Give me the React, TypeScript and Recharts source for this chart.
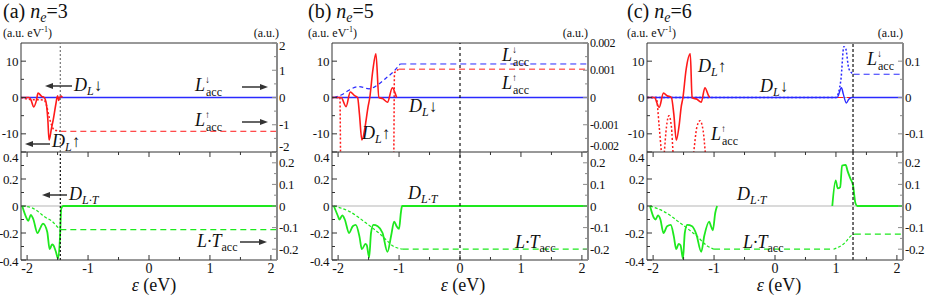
import { LineChart, Line, XAxis, YAxis, ReferenceLine } from "recharts"

type Pt = [number, number | null]

const FONT = "Liberation Serif"

// panel headings
const panelTags = ["(a)", "(b)", "(c)"]
const neValues = [3, 5, 6]

// x axis, energy in eV
const xDomain: [number, number] = [-2.1, 2.1]
const xTicks = [-2, -1.5, -1, -0.5, 0, 0.5, 1, 1.5, 2]

// left axes
const dosDomain: [number, number] = [-15, 15]
const dosTicks = [-10, -5, 0, 5, 10]
const dosLabels = [-10, 0, 10]
const dltDomain: [number, number] = [-0.4, 0.4]
const dltTicks = [-0.4, -0.3, -0.2, -0.1, 0, 0.1, 0.2, 0.3, 0.4]
const dltLabels = [-0.4, -0.2, 0, 0.2, 0.4]

// right axes
const accDomainA: [number, number] = [-2, 2]
const accTicksA = [-2, -1.5, -1, -0.5, 0, 0.5, 1, 1.5, 2]
const accLabelsA = [-2, -1, 0, 1, 2]
const accDomainB: [number, number] = [-0.002, 0.002]
const accTicksB = [-0.002, -0.0015, -0.001, -0.0005, 0, 0.0005, 0.001, 0.0015, 0.002]
const accLabelsB = [-0.002, -0.001, 0, 0.001, 0.002]
const accDomainC: [number, number] = [-0.15, 0.15]
const accTicksC = [-0.1, -0.05, 0, 0.05, 0.1]
const accLabelsC = [-0.1, 0, 0.1]
const ltDomain: [number, number] = [-0.25, 0.25]
const ltTicks = [-0.2, -0.15, -0.1, -0.05, 0, 0.05, 0.1, 0.15, 0.2]
const ltLabels = [-0.2, -0.1, 0, 0.1, 0.2]

// Fermi levels
const fermiA = -1.455
const fermiB = 0
const fermiC = 1.28

// ---- (a) n_e = 3
const aDosUp: Pt[] = [[-2.1, 0], [-1.97, 0], [-1.94, -0.5], [-1.89, -2.6], [-1.85, -1], [-1.82, 1.2], [-1.76, 0.3], [-1.72, 0], [-1.69, -1.2], [-1.66, -6], [-1.64, -11.7], [-1.6, -8.5], [-1.57, -6], [-1.53, -2], [-1.5, 0.5], [-1.48, -0.8], [-1.45, 0.5], [-1.42, 0]]
const aDosDn: Pt[] = [[-2.1, 0], [2.1, 0]]
const aUpAccRise: Pt[] = [[-2.1, 0], [-1.9, -0.08], [-1.8, -0.08], [-1.72, -0.1], [-1.68, -0.3], [-1.64, -0.7], [-1.6, -1.0], [-1.56, -1.18], [-1.5, -1.22], [-1.455, -1.24]]
const aUpAccFlat: Pt[] = [[-1.455, -1.24], [2.1, -1.24]]
const aDlt: Pt[] = [[-2.08, 0], [-2.02, -0.078], [-1.98, -0.11], [-1.94, -0.066], [-1.9, -0.095], [-1.83, -0.2], [-1.78, -0.16], [-1.74, -0.13], [-1.67, -0.19], [-1.63, -0.32], [-1.59, -0.285], [-1.57, -0.29], [-1.53, -0.335], [-1.49, -0.39], [-1.46, -0.23], [-1.44, -0.02], [-1.41, 0], [2.1, 0]]
const aLtAccRise: Pt[] = [[-2.08, 0], [-1.91, -0.01], [-1.8, -0.03], [-1.72, -0.049], [-1.59, -0.071], [-1.49, -0.1], [-1.455, -0.109]]
const aLtAccFlat: Pt[] = [[-1.455, -0.109], [2.1, -0.109]]

// ---- (b) n_e = 5
const bDosUp: Pt[] = [[-2.1, 0], [-1.95, 0], [-1.87, -2.5], [-1.8, 1.5], [-1.73, 0.5], [-1.68, 0], [-1.65, -4.5], [-1.61, -11.7], [-1.55, -7.3], [-1.51, -2.7], [-1.48, 0], [-1.43, 7.5], [-1.38, 12], [-1.33, 0], [-1.27, -0.3], [-1.19, -1.3], [-1.11, 2.7], [-1.06, 1], [-1.04, 0]]
const bDosDn: Pt[] = [[-2.1, 0], [2.1, 0]]
const bUpAccRise: Pt[] = [[-2.1, 0], [-1.97, 0], [-1.955, -0.003], [-1.5, -0.01], [-1.09, -0.003], [-1.075, 0.0009], [-1.0, 0.00104]]
const bUpAccFlat: Pt[] = [[-1.0, 0.00104], [2.1, 0.00104]]
const bDnAccRise: Pt[] = [[-2.07, 0], [-1.94, 0.0001], [-1.83, 0.00026], [-1.66, 0.0004], [-1.49, 0.00032], [-1.36, 0.00045], [-1.22, 0.0007], [-1.09, 0.00095], [-0.98, 0.00123]]
const bDnAccFlat: Pt[] = [[-0.98, 0.00123], [2.1, 0.00123]]
const bDlt: Pt[] = [[-2.07, 0], [-2.0, -0.078], [-1.98, -0.1], [-1.93, -0.07], [-1.89, -0.1], [-1.82, -0.2], [-1.76, -0.15], [-1.71, -0.14], [-1.65, -0.225], [-1.61, -0.32], [-1.55, -0.28], [-1.53, -0.29], [-1.49, -0.38], [-1.46, -0.2], [-1.42, -0.14], [-1.35, -0.15], [-1.27, -0.2], [-1.19, -0.34], [-1.13, -0.22], [-1.08, -0.115], [-1.04, -0.15], [-1.0, -0.17], [-0.97, -0.05], [-0.95, 0], [2.1, 0]]
const bLtAccRise: Pt[] = [[-2.07, 0], [-1.81, -0.026], [-1.54, -0.079], [-1.27, -0.14], [-1.1, -0.185], [-0.94, -0.2]]
const bLtAccFlat: Pt[] = [[-0.94, -0.2], [2.1, -0.2]]

// ---- (c) n_e = 6
const cDosUp: Pt[] = [[-2.1, 0], [-1.98, 0], [-1.9, -2.7], [-1.83, 1.2], [-1.77, 0.5], [-1.7, 0], [-1.66, -4.6], [-1.62, -11.7], [-1.57, -7.3], [-1.54, -2.7], [-1.51, 0], [-1.46, 7.5], [-1.39, 12], [-1.36, 0], [-1.28, -0.5], [-1.21, -1.3], [-1.15, 2.7], [-1.09, 0.5], [-1.07, 0]]
const cDosDn: Pt[] = [[-2.1, 0], [1.02, 0], [1.09, 2.7], [1.12, 1], [1.17, -1.5], [1.21, -0.5], [1.26, 0], [2.1, 0]]
const cUpAccDip: Pt[] = [[-2.1, 0], [-1.95, 0], [-1.9, -0.08], [-1.86, -0.16], [-1.84, -0.2], [-1.82, -0.16], [-1.78, -0.08], [-1.74, -0.05], [-1.7, -0.08], [-1.67, -0.16], [-1.6, -0.3], [-1.45, -0.3], [-1.34, -0.16], [-1.28, -0.08], [-1.23, -0.064], [-1.18, -0.09], [-1.14, -0.16], [-1.1, -0.25]]
const cUpAccFlat: Pt[] = [[-2.1, 0], [2.1, 0]]
const cDnAccRise: Pt[] = [[-2.1, 0], [1.0, 0], [1.08, 0.047], [1.13, 0.14], [1.16, 0.135], [1.21, 0.08], [1.27, 0.066], [1.29, 0.064]]
const cDnAccFlat: Pt[] = [[1.29, 0.064], [2.1, 0.064]]
const cDlt: Pt[] = [[-2.05, 0], [-1.99, -0.085], [-1.96, -0.1], [-1.92, -0.07], [-1.88, -0.1], [-1.83, -0.2], [-1.77, -0.15], [-1.71, -0.14], [-1.66, -0.225], [-1.62, -0.32], [-1.58, -0.28], [-1.55, -0.29], [-1.51, -0.39], [-1.48, -0.2], [-1.44, -0.14], [-1.36, -0.15], [-1.29, -0.21], [-1.21, -0.34], [-1.16, -0.22], [-1.08, -0.115], [-1.05, -0.15], [-1.02, -0.18], [-0.98, -0.05], [-0.95, 0], [0, null], [0.94, 0], [0.995, 0.19], [1.03, 0.13], [1.07, 0.14], [1.1, 0.3], [1.16, 0.305], [1.19, 0.26], [1.24, 0.2], [1.28, 0.154], [1.32, 0.02], [1.35, 0], [2.1, 0]]
const cLtAccRise: Pt[] = [[-2.05, 0], [-1.82, -0.026], [-1.55, -0.08], [-1.28, -0.14], [-1.11, -0.185], [-1.0, -0.2]]
const cLtAccMid: Pt[] = [[-1.0, -0.2], [0.96, -0.2]]
const cLtAccStep: Pt[] = [[0.96, -0.2], [1.12, -0.177], [1.28, -0.132], [1.31, -0.13]]
const cLtAccFlat: Pt[] = [[1.31, -0.13], [2.1, -0.13]]

const RED = "#ff1a1a"
const BLUE = "#2a2aff"
const GREEN = "#1ee81e"
const FRAME = "#333"
const RFRAME = "#8a8a8a"

const LW = 36
const RW = 46
const PW = 256
const GAP = 2

const toPts = (a: Pt[]) => a.map(([x, y]) => ({ x, y }))
const near = (a: number, b: number) => Math.abs(a - b) < 1e-12

function yTick(side: "left" | "right", labels: number[], domain: [number, number], fs: number, color: string, shiftTop: number, shiftBottom: number) {
  return (p: any) => {
    const v: number = p.payload.value
    const major = labels.some((l) => near(l, v))
    const ax = side === "left" ? p.x + GAP : p.x - GAP
    const d = side === "left" ? 1 : -1
    const len = major ? 5 : 3
    let dy = 0
    if (near(v, domain[1])) dy = shiftTop
    if (near(v, domain[0])) dy = shiftBottom
    return (
      <g>
        <line x1={ax} x2={ax + d * len} y1={p.y} y2={p.y} stroke={color} />
        {major && (
          <text x={side === "left" ? p.x - 1 : p.x} y={p.y + dy} dy="0.35em" textAnchor={side === "left" ? "end" : "start"} fontSize={fs} letterSpacing={-0.4} fontFamily={FONT} fill="#111">
            {String(v)}
          </text>
        )}
      </g>
    )
  }
}

function xTick(plotH: number, labels: boolean) {
  return (p: any) => {
    const v: number = p.payload.value
    const major = Number.isInteger(v)
    const ay = p.y - GAP
    const len = major ? 5 : 3
    return (
      <g>
        <line x1={p.x} x2={p.x} y1={ay} y2={ay - len} stroke={FRAME} />
        <line x1={p.x} x2={p.x} y1={ay - plotH} y2={ay - plotH + len} stroke={FRAME} />
        {labels && major && (
          <text x={p.x} y={p.y + 1} dy="0.72em" textAnchor="middle" fontSize={14} fontFamily={FONT} fill="#111">
            {String(v)}
          </text>
        )}
      </g>
    )
  }
}

type Series = { data: Pt[]; axis: "l" | "r"; color: string; width: number; dash?: string }

type SubProps = {
  left: number
  top: number
  plotH: number
  bottom: boolean
  series: Series[]
  lDomain: [number, number]
  lTicks: number[]
  lLabels: number[]
  rDomain: [number, number]
  rTicks: number[]
  rLabels: number[]
  rFont: number
  lShift: [number, number]
  rShift: [number, number]
  fermi: number
  fermiColor: string
  fermiDash: string
}

function Sub(s: SubProps) {
  const MT = 10
  const MB = s.bottom ? 0 : 10
  const XH = s.bottom ? 26 : 0
  const H = MT + s.plotH + MB + XH
  return (
    <div style={{ position: "absolute", left: s.left - LW, top: s.top - MT }}>
      <LineChart width={LW + PW + RW} height={H} margin={{ top: MT, right: 0, bottom: MB, left: 0 }}>
        <XAxis
          type="number"
          dataKey="x"
          domain={xDomain}
          allowDataOverflow
          ticks={xTicks}
          interval={0}
          height={XH}
          tickSize={0}
          tickMargin={GAP}
          tickLine={false}
          axisLine={{ stroke: FRAME }}
          tick={xTick(s.plotH, s.bottom)}
        />
        <YAxis
          yAxisId="l"
          type="number"
          domain={s.lDomain}
          allowDataOverflow
          ticks={s.lTicks}
          interval={0}
          width={LW}
          tickSize={0}
          tickMargin={GAP}
          tickLine={false}
          axisLine={{ stroke: FRAME }}
          tick={yTick("left", s.lLabels, s.lDomain, 13, FRAME, s.lShift[0], s.lShift[1])}
        />
        <YAxis
          yAxisId="r"
          orientation="right"
          type="number"
          domain={s.rDomain}
          allowDataOverflow
          ticks={s.rTicks}
          interval={0}
          width={RW}
          tickSize={0}
          tickMargin={GAP}
          tickLine={false}
          axisLine={{ stroke: RFRAME, strokeWidth: 2 }}
          tick={yTick("right", s.rLabels, s.rDomain, s.rFont, RFRAME, s.rShift[0], s.rShift[1])}
        />
        <ReferenceLine yAxisId="l" y={0} stroke="#b5b5b5" />
        <ReferenceLine yAxisId="l" y={s.lDomain[1]} stroke={FRAME} />
        {s.series.map((ln, i) => (
          <Line
            key={i}
            yAxisId={ln.axis}
            data={toPts(ln.data)}
            dataKey="y"
            type="monotone"
            stroke={ln.color}
            strokeWidth={ln.width}
            strokeDasharray={ln.dash}
            dot={false}
            activeDot={false}
            isAnimationActive={false}
          />
        ))}
        <ReferenceLine yAxisId="l" x={s.fermi} stroke={s.fermiColor} strokeDasharray={s.fermiDash} strokeWidth={1.2} />
      </LineChart>
    </div>
  )
}

function DText({ x, y, sub, arrow }: { x: number; y: number; sub: string; arrow?: string }) {
  return (
    <text x={x} y={y} fontSize={18} fontFamily={FONT} fill="#111">
      <tspan fontStyle="italic">D</tspan>
      <tspan fontStyle="italic" fontSize={12} dy={4}>{sub}</tspan>
      {arrow && <tspan dy={-4} fontSize={17}>{arrow}</tspan>}
    </text>
  )
}

function LAcc({ x, y, arrow }: { x: number; y: number; arrow: string }) {
  return (
    <g fontFamily={FONT} fill="#111">
      <text x={x} y={y} fontSize={18} fontStyle="italic" fontFamily={FONT}>L</text>
      <text x={x + 10} y={y - 8} fontSize={10} fontFamily={FONT}>{arrow}</text>
      <text x={x + 11} y={y + 5} fontSize={12} fontFamily={FONT}>acc</text>
    </g>
  )
}

function LTAcc({ x, y }: { x: number; y: number }) {
  return (
    <text x={x} y={y} fontSize={18} fontFamily={FONT} fill="#111">
      <tspan fontStyle="italic">L·T</tspan>
      <tspan fontSize={12} dy={4}>acc</tspan>
    </text>
  )
}

function Arrow({ x1, x2, y }: { x1: number; x2: number; y: number }) {
  const d = x2 > x1 ? 1 : -1
  return (
    <g>
      <line x1={x1} x2={x2 - d * 6} y1={y} y2={y} stroke="#333" strokeWidth={1.5} />
      <polygon points={`${x2},${y} ${x2 - d * 8},${y - 3} ${x2 - d * 8},${y + 3}`} fill="#333" />
    </g>
  )
}

function Heading({ x, idx, right }: { x: number; idx: number; right: number }) {
  return (
    <g fill="#111" fontFamily={FONT}>
      <text x={x} y={18} fontSize={20} fontFamily={FONT}>
        {panelTags[idx]} <tspan fontStyle="italic">n</tspan>
        <tspan fontStyle="italic" fontSize={14} dy={4}>e</tspan>
        <tspan dy={-4}>={neValues[idx]}</tspan>
      </text>
      <text x={x} y={37} fontSize={12} fontFamily={FONT}>
        (a.u. eV<tspan fontSize={8} dy={-5}>-1</tspan>
        <tspan dy={5}>)</tspan>
      </text>
      <text x={right} y={37} fontSize={12} textAnchor="end" fontFamily={FONT}>(a.u.)</text>
    </g>
  )
}

function XLabel({ cx }: { cx: number }) {
  return (
    <text x={cx} y={291} fontSize={18} fontFamily={FONT} fill="#111" textAnchor="middle">
      <tspan fontStyle="italic">ε</tspan> (eV)
    </text>
  )
}

const PANEL_X = [21, 332, 647]
const TOP_Y = 43
const TOP_H = 109
const BOT_Y = 152
const BOT_H = 108

export default function App() {
  const topCommon = { top: TOP_Y, plotH: TOP_H, bottom: false, lDomain: dosDomain, lTicks: dosTicks, lLabels: dosLabels, lShift: [0, 0] as [number, number] }
  const botCommon = { top: BOT_Y, plotH: BOT_H, bottom: true, lDomain: dltDomain, lTicks: dltTicks, lLabels: dltLabels, rDomain: ltDomain, rTicks: ltTicks, rLabels: ltLabels, rFont: 13, lShift: [5, 1] as [number, number], rShift: [0, 0] as [number, number] }
  return (
    <div style={{ position: "absolute", left: 0, top: 0, width: 926, height: 295, background: "#fff", overflow: "hidden" }}>
      {/* (a) */}
      <Sub
        {...topCommon}
        left={PANEL_X[0]}
        rDomain={accDomainA}
        rTicks={accTicksA}
        rLabels={accLabelsA}
        rFont={13}
        rShift={[2, -6]}
        fermi={fermiA}
        fermiColor="#777"
        fermiDash="2 2"
        series={[
          { data: aUpAccRise, axis: "r", color: RED, width: 1.5, dash: "2 2" },
          { data: aUpAccFlat, axis: "r", color: RED, width: 1, dash: "6 4" },
          { data: aDosDn, axis: "l", color: BLUE, width: 1.3 },
          { data: aDosUp, axis: "l", color: RED, width: 1.6 },
        ]}
      />
      <Sub
        {...botCommon}
        left={PANEL_X[0]}
        fermi={fermiA}
        fermiColor="#111"
        fermiDash="2 2"
        series={[
          { data: aLtAccRise, axis: "r", color: GREEN, width: 1.2, dash: "3 2" },
          { data: aLtAccFlat, axis: "r", color: GREEN, width: 1.2, dash: "6 4" },
          { data: aDlt, axis: "l", color: GREEN, width: 1.8 },
        ]}
      />
      {/* (b) */}
      <Sub
        {...topCommon}
        left={PANEL_X[1]}
        rDomain={accDomainB}
        rTicks={accTicksB}
        rLabels={accLabelsB}
        rFont={12}
        rShift={[0, -6]}
        fermi={fermiB}
        fermiColor="#111"
        fermiDash="3 3"
        series={[
          { data: bUpAccRise, axis: "r", color: RED, width: 1.5, dash: "2 2" },
          { data: bUpAccFlat, axis: "r", color: RED, width: 1, dash: "6 4" },
          { data: bDnAccRise, axis: "r", color: BLUE, width: 1.2, dash: "4 3" },
          { data: bDnAccFlat, axis: "r", color: BLUE, width: 1, dash: "6 4" },
          { data: bDosDn, axis: "l", color: BLUE, width: 1.3 },
          { data: bDosUp, axis: "l", color: RED, width: 1.6 },
        ]}
      />
      <Sub
        {...botCommon}
        left={PANEL_X[1]}
        fermi={fermiB}
        fermiColor="#111"
        fermiDash="3 3"
        series={[
          { data: bLtAccRise, axis: "r", color: GREEN, width: 1.2, dash: "3 2" },
          { data: bLtAccFlat, axis: "r", color: GREEN, width: 1.2, dash: "6 4" },
          { data: bDlt, axis: "l", color: GREEN, width: 1.8 },
        ]}
      />
      {/* (c) */}
      <Sub
        {...topCommon}
        left={PANEL_X[2]}
        rDomain={accDomainC}
        rTicks={accTicksC}
        rLabels={accLabelsC}
        rFont={13}
        rShift={[0, 0]}
        fermi={fermiC}
        fermiColor="#111"
        fermiDash="3 2"
        series={[
          { data: cUpAccFlat, axis: "r", color: RED, width: 1, dash: "6 4" },
          { data: cUpAccDip, axis: "r", color: RED, width: 1.5, dash: "2 2" },
          { data: cDosDn, axis: "l", color: BLUE, width: 1.4 },
          { data: cDnAccRise, axis: "r", color: BLUE, width: 1.5, dash: "2 2" },
          { data: cDnAccFlat, axis: "r", color: BLUE, width: 1, dash: "6 4" },
          { data: cDosUp, axis: "l", color: RED, width: 1.6 },
        ]}
      />
      <Sub
        {...botCommon}
        left={PANEL_X[2]}
        fermi={fermiC}
        fermiColor="#111"
        fermiDash="3 2"
        series={[
          { data: cLtAccRise, axis: "r", color: GREEN, width: 1.2, dash: "3 2" },
          { data: cLtAccMid, axis: "r", color: GREEN, width: 1.2, dash: "6 4" },
          { data: cLtAccStep, axis: "r", color: GREEN, width: 1.2, dash: "3 2" },
          { data: cLtAccFlat, axis: "r", color: GREEN, width: 1.2, dash: "6 4" },
          { data: cDlt, axis: "l", color: GREEN, width: 1.8 },
        ]}
      />

      <svg width={926} height={295} style={{ position: "absolute", left: 0, top: 0, pointerEvents: "none" }}>
        <Heading x={3} idx={0} right={279} />
        <Heading x={308} idx={1} right={588} />
        <Heading x={627} idx={2} right={903} />
        <XLabel cx={154} />
        <XLabel cx={463} />
        <XLabel cx={779} />

        {/* (a) labels */}
        <Arrow x1={72} x2={45} y={86} />
        <DText x={74} y={91} sub="L" arrow="↓" />
        <LAcc x={195} y={91} arrow="↓" />
        <Arrow x1={242} x2={268} y={87} />
        <LAcc x={195} y={126} arrow="↑" />
        <Arrow x1={242} x2={268} y={122} />
        <Arrow x1={50} x2={25} y={144} />
        <DText x={52} y={147} sub="L" arrow="↑" />
        <Arrow x1={67} x2={42} y={195} />
        <DText x={69} y={200} sub="L·T" />
        <LTAcc x={197} y={247} />
        <Arrow x1={240} x2={267} y={242} />

        {/* (b) labels */}
        <LAcc x={502} y={61} arrow="↓" />
        <LAcc x={502} y={89} arrow="↑" />
        <DText x={409} y={112} sub="L" arrow="↓" />
        <DText x={362} y={139} sub="L" arrow="↑" />
        <DText x={408} y={199} sub="L·T" />
        <LTAcc x={515} y={248} />

        {/* (c) labels */}
        <DText x={698} y={72} sub="L" arrow="↑" />
        <DText x={760} y={92} sub="L" arrow="↓" />
        <LAcc x={867} y={65} arrow="↓" />
        <LAcc x={711} y={140} arrow="↑" />
        <DText x={737} y={200} sub="L·T" />
        <LTAcc x={743} y={248} />
      </svg>
    </div>
  )
}
